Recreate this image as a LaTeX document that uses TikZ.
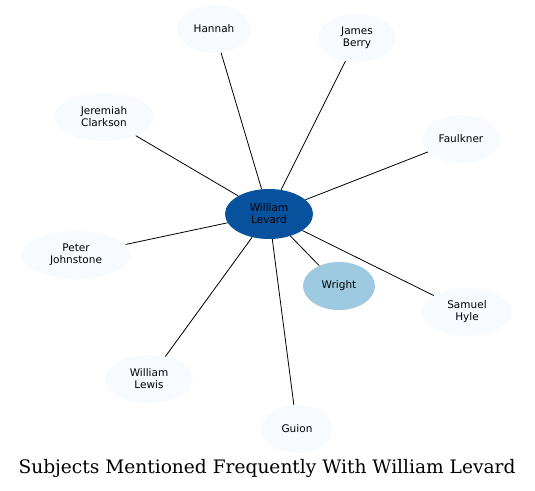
\documentclass[tikz,border=0pt]{standalone}
\usepackage{fontspec}
\setsansfont{DejaVu Sans}
\newfontfamily\titlefont{DejaVu Serif}
\usepackage{xcolor}
\usetikzlibrary{shapes.geometric, positioning}

\definecolor{leadblue}{HTML}{08519C}
\definecolor{midblue}{HTML}{9ECAE1}
\definecolor{paleblue}{HTML}{F7FBFF}

\begin{document}
\begin{tikzpicture}[
    x=1pt, y=-1pt,
    person/.style={ellipse, fill=paleblue, draw=none, minimum width=#1, minimum height=48pt, inner sep=0pt, align=center, font=\sffamily\fontsize{10.5}{12}\selectfont},
    person/.default=76pt,
    link/.style={draw=black, line width=0.8pt}
]
\useasboundingbox (0,0) rectangle (535,490);

% Central subject
\node[person=88pt, fill=leadblue, minimum height=50pt] (levard) at (269,214) {William\\Levard};
\node[person=72pt, fill=midblue] (wright) at (339,286) {Wright};

% Other subjects
\node[person=74pt] (hannah) at (214,29) {Hannah};
\node[person=78pt] (berry) at (357,38) {James\\Berry};
\node[person=100pt] (clarkson) at (104,117) {Jeremiah\\Clarkson};
\node[person=78pt] (faulkner) at (461,139) {Faulkner};
\node[person=110pt] (johnstone) at (76,255) {Peter\\Johnstone};
\node[person=90pt] (hyle) at (467,312) {Samuel\\Hyle};
\node[person=88pt] (lewis) at (149,379) {William\\Lewis};
\node[person=72pt] (guion) at (297,429) {Guion};

% Connections
\foreach \other in {hannah, berry, clarkson, faulkner, johnstone, hyle, lewis, guion, wright}
    \draw[link] (levard) -- (\other);

% Title
\node[font=\titlefont\fontsize{18.6}{21}\selectfont] (title) at (267,468) {Subjects Mentioned Frequently With William Levard};

\end{tikzpicture}
\end{document}
